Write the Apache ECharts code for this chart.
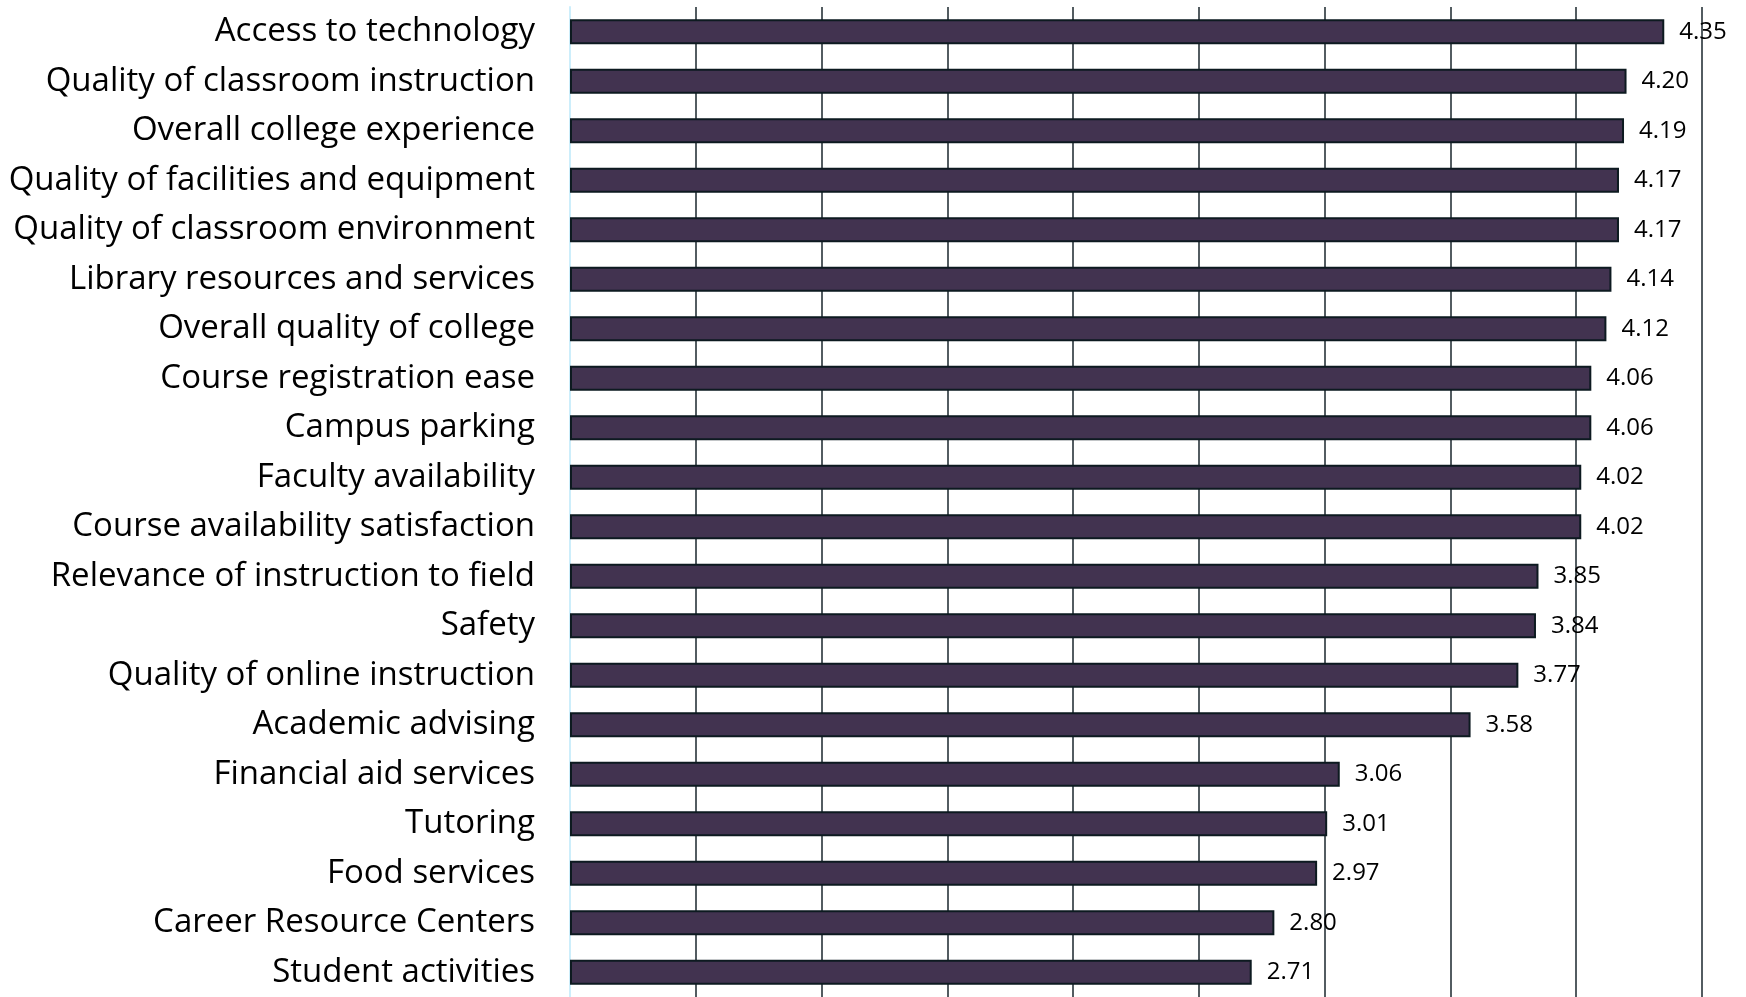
<!DOCTYPE html>
<html>
<head>
<meta charset="utf-8">
<script src="https://cdn.jsdelivr.net/npm/echarts@6/dist/echarts.min.js"></script>
<style>
  html, body { margin: 0; padding: 0; background: #fff; }
  #main { width: 1746px; height: 997px; }
</style>
</head>
<body>
<div id="main"></div>
<script>
// categories, top to bottom
const categories = [
  'Access to technology',
  'Quality of classroom instruction',
  'Overall college experience',
  'Quality of facilities and equipment',
  'Quality of classroom environment',
  'Library resources and services',
  'Overall quality of college',
  'Course registration ease',
  'Campus parking',
  'Faculty availability',
  'Course availability satisfaction',
  'Relevance of instruction to field',
  'Safety',
  'Quality of online instruction',
  'Academic advising',
  'Financial aid services',
  'Tutoring',
  'Food services',
  'Career Resource Centers',
  'Student activities'
]
const scores = [4.35, 4.20, 4.19, 4.17, 4.17, 4.14, 4.12, 4.06, 4.06, 4.02,
  4.02, 3.85, 3.84, 3.77, 3.58, 3.06, 3.01, 2.97, 2.80, 2.71]

let myChart = echarts.init(document.getElementById('main'))
let option = {
  animation: false,
  grid: {
    left: 570,
    top: 7,
    width: 1132,
    height: 993
  },
  xAxis: {
    type: 'value',
    min: 0,
    max: 4.5,
    interval: 0.5,
    axisLine: { show: false },
    axisTick: { show: false },
    axisLabel: { show: false },
    splitLine: {
      show: true,
      lineStyle: { color: '#1a262c', width: 1.5 }
    }
  },
  yAxis: {
    type: 'category',
    inverse: true,
    data: categories,
    axisLine: {
      show: true,
      lineStyle: { color: '#cdeefb', width: 2 }
    },
    axisTick: { show: false },
    axisLabel: {
      margin: 35,
      color: '#000',
      fontSize: 33,
      fontFamily: 'Open Sans'
    }
  },
  series: [
    {
      type: 'bar',
      data: scores,
      barWidth: 25,
      itemStyle: {
        color: '#423350',
        borderColor: '#0d1a20',
        borderWidth: 2
      },
      label: {
        show: true,
        position: 'right',
        distance: 15,
        color: '#000',
        fontSize: 24,
        fontFamily: 'Open Sans',
        formatter: p => p.value.toFixed(2)
      }
    }
  ]
}
myChart.setOption(option)
</script>
</body>
</html>
